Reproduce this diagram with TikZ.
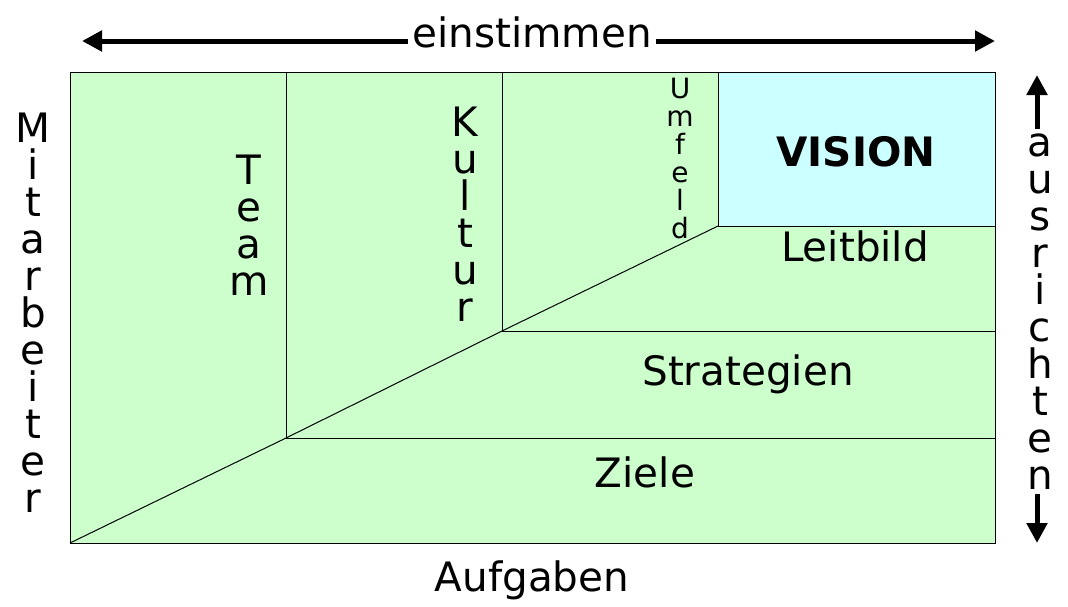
\documentclass[tikz,border=0pt]{standalone}
\usepackage{fontspec}
\setmainfont{DejaVu Sans}
\usetikzlibrary{arrows.meta}
\definecolor{lgreen}{HTML}{CCFFCC}
\definecolor{lcyan}{HTML}{CCFFFF}
\lineskiplimit=-100pt
\tikzset{
  area/.style={fill=lgreen,draw=black,line width=1pt},
  sep/.style={draw=black,line width=1pt},
  big/.style={font=\fontsize{40.5}{37}\selectfont,inner sep=0pt},
  vert/.style={font=\fontsize{40.5}{37}\selectfont,align=center,inner sep=0pt},
  vsmall/.style={font=\fontsize{28}{28}\selectfont,align=center,inner sep=0pt},
  dir/.style={line width=5pt,{Triangle[length=20pt,width=20pt]}-{Triangle[length=20pt,width=20pt]}},
}
\begin{document}
\begin{tikzpicture}[x=1pt,y=-1pt]
\lineskiplimit=-100pt
\useasboundingbox (0,0) rectangle (1068,606);
\fill[white] (0,0) rectangle (1068,606);
% areas
\coordinate (c0) at (70,543);
\coordinate (c1) at (286,438);
\coordinate (c2) at (502,331);
\coordinate (c3) at (718,226);
\fill[lgreen] (70,72) rectangle (995,543);
\fill[lcyan] (718,72) rectangle (995,226);
\draw[sep] (286,72) -- (c1) -- (995,438);
\draw[sep] (502,72) -- (c2) -- (995,331);
\draw[sep] (718,72) -- (c3) -- (995,226);
\draw[sep] (c0) -- (c1) -- (c2) -- (c3);
\draw[sep] (70,72) rectangle (995,543);
% arrows
\coordinate (tl) at (82,41);
\coordinate (tr) at (995,41);
\coordinate (rt) at (1037,75);
\coordinate (rb) at (1037,543);
\draw[dir] (tl) -- (tr);
\draw[dir] (rt) -- (rb);
\node[big,fill=white,inner xsep=4pt,anchor=base] (ein) at (532,47) {einstimmen};
\node[vert,fill=white,inner ysep=5pt] (aus) at (1040,311.5) {a\\u\\s\\r\\i\\c\\h\\t\\e\\n};
% labels
\node[vert] (mit) at (33,312.5) {M\\i\\t\\a\\r\\b\\e\\i\\t\\e\\r};
\node[big,anchor=base] (auf) at (532,591) {Aufgaben};
\node[vert] (team) at (249,225) {T\\e\\a\\m};
\node[vert] (kultur) at (465,214.5) {K\\u\\l\\t\\u\\r};
\node[vsmall] (umfeld) at (680,158) {U\\m\\f\\e\\l\\d};
\node[big,anchor=base,font=\fontsize{40.5}{37}\selectfont\bfseries] (vision) at (856,166) {VISION};
\node[big,anchor=base] (leit) at (855,261) {Leitbild};
\node[big,anchor=base] (strat) at (748,385) {Strategien};
\node[big,anchor=base] (ziele) at (645,487) {Ziele};
\end{tikzpicture}
\end{document}
